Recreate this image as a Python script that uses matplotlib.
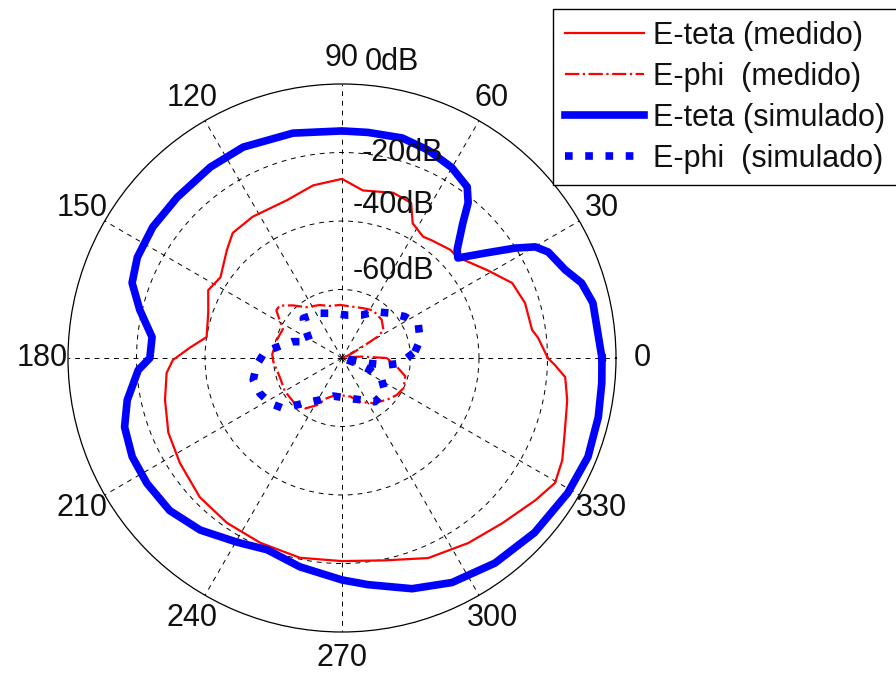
import numpy as np
import matplotlib.pyplot as plt

plt.rcParams['font.family'] = ['Liberation Sans', 'DejaVu Sans']

# --- data: angle (deg) and level (dB)
teta_med_ang = [0, 6, 8.4, 16.7, 23.8, 31.1, 41.3, 45, 52.7, 56.2, 62.3, 66, 72.8,
                82.9, 90, 99.5, 109.2, 122.3, 131.1, 136.8, 146.4, 153.1, 161.4,
                171.2, 176, 180.7, 184.9, 193.3, 203.3, 213, 224.4, 235.1, 246.1,
                258.1, 270, 282, 293.3, 304.3, 314.1, 323.7, 329.6, 335.1, 341.4,
                349.4, 355.1, 358.1, 360]
teta_med_db = [-19.9, -22.5, -23.9, -24.2, -25.7, -30.4, -35.3, -35.3, -36.8, -37.4,
               -35.6, -30.4, -29.5, -30.7, -27.7, -28.9, -31.2, -31.2, -31.5, -33.9,
               -37.4, -36.2, -38.8, -40.0, -35.6, -30.6, -28.6, -26.9, -24.8, -23.6,
               -21.9, -21.3, -21.0, -20.4, -20.7, -19.6, -16.4, -14.6, -12.8, -9.9,
               -7.9, -9.1, -11.4, -13.1, -14.6, -17.8, -19.9]

phi_med_ang = [0, 4, 8, 14, 20, 25, 28, 30, 31, 34, 44, 57, 67, 78, 92, 103, 113, 125,
               133, 140, 144, 149, 154, 165, 177, 183, 197, 210, 222, 234, 242, 249,
               262, 282, 292, 305, 317, 326, 334, 344, 351, 360]
phi_med_db = [-66.9, -74.2, -78.2, -79.7, -78.5, -76.8, -74.2, -70.7, -67.7, -65.4,
              -63.9, -63.4, -64.2, -64.7, -64.5, -64.4, -63.2, -61.9, -59.0, -56.2,
              -56.3, -58.8, -60.8, -60.2, -59.6, -59.9, -61.0, -60.7, -60.9, -61.8,
              -64.4, -67.4, -69.2, -68.5, -66.2, -63.9, -62.1, -60.7, -60.0, -60.8,
              -63.8, -66.9]

teta_sim_ang = [0, 12.4, 17.4, 21.5, 27.2, 29.9, 32.4, 36.3, 40.8, 43.2, 48.1, 50.9,
                53.8, 60.1, 67.5, 74.7, 83.4, 90, 102.3, 115.1, 124.6, 135.7, 145.3,
                153.8, 160.3, 166.6, 173.7, 180, 183.4, 191.1, 197.6, 205.2, 212.7,
                221.5, 230.5, 240.3, 248.7, 258.6, 270, 276.5, 286.9, 296.1, 306.7,
                317.8, 329.1, 338.1, 347, 354.5, 360]
teta_sim_db = [-4.1, -5.0, -6.7, -9.9, -12.3, -14.9, -20.1, -28.3, -35.3, -33.9,
               -27.2, -21.6, -18.1, -15.8, -14.3, -13.4, -13.7, -13.7, -12.8, -12.0,
               -12.3, -12.8, -12.8, -13.4, -14.9, -19.3, -24.2, -23.9, -20.4, -16.1,
               -13.4, -12.3, -12.3, -12.8, -14.9, -18.1, -19.9, -17.8, -15.2, -13.4,
               -9.6, -7.0, -5.3, -4.1, -3.2, -2.6, -3.2, -3.8, -4.1]

phi_sim_ang = [4.9, 13, 23.4, 33.3, 43, 54.5, 65.4, 83.8, 101, 117.9, 134.3, 141.2,
               153, 162, 175.3, 184.7, 193.9, 203.3, 212.2, 220.6, 229.5, 242.4, 257,
               278.9, 296.9, 307, 321.9, 331, 336.8, 340, 345, 349, 351, 354.8, 364.9]
phi_sim_db = [-58.6, -56.6, -55.7, -58.0, -60.8, -63.4, -66.2, -67.4, -66.7, -65.2,
              -63.8, -66.2, -69.5, -64.6, -57.4, -55.0, -53.3, -53.9, -55.2, -57.4,
              -62.6, -66.2, -68.6, -68.1, -66.2, -64.0, -64.1, -66.7, -71.1, -75.4,
              -80.0, -71.7, -66.8, -63.0, -58.6]

angle_labels = ['0', '30', '60', '90', '120', '150', '180', '210', '240', '270', '300', '330']
ring_labels = ['0dB', '-20dB', '-40dB', '-60dB']
ring_label_pos = [(392, 62), (402, 153), (393, 205), (393, 271)]   # pixel centres

W, H = 896, 677
fs = 22
fig = plt.figure(figsize=(W / 100, H / 100), dpi=100)
ax = fig.add_axes([68 / W, 45 / H, 548 / W, 548 / H], projection='polar')

ax.set_ylim(-80, 0)
ax.set_yticks([-60, -40, -20])
ax.set_yticklabels([])
ax.set_xticks(np.deg2rad(np.arange(0, 360, 30)))
ax.set_xticklabels([])
ax.tick_params(length=0)
ax.grid(True, color='k', linestyle=(0, (5, 5)), linewidth=0.7)
ax.spines['polar'].set_linewidth(0.9)

ax.plot(np.deg2rad(teta_med_ang), teta_med_db, color='red', lw=1.6, label='E-teta (medido)')
ax.plot(np.deg2rad(phi_med_ang), phi_med_db, color='red', lw=1.6, ls='-.', label='E-phi  (medido)')
ax.plot(np.deg2rad(teta_sim_ang), teta_sim_db, color='blue', lw=5.5, label='E-teta (simulado)')
ax.plot(np.deg2rad(phi_sim_ang), phi_sim_db, color='blue', lw=5.5, ls=':', label='E-phi  (simulado)')

# angle labels just outside the outer circle
for k, lab in enumerate(angle_labels):
    ax.text(np.deg2rad(30 * k), 7.6, lab, ha='center', va='center', fontsize=fs,
            color='#111111', clip_on=False)

for lab, (px, py) in zip(ring_labels, ring_label_pos):
    fig.text(px / W, 1 - py / H, lab, ha='center', va='center', fontsize=fs, color='#111111')

leg = fig.legend(loc='upper left', bbox_to_anchor=(553 / W, 1 - 9 / H), fontsize=fs,
                 frameon=True, fancybox=False, framealpha=1, edgecolor='k',
                 handlelength=2.6, handletextpad=0.3, labelspacing=0.36,
                 borderpad=0.38, borderaxespad=0)
leg.get_frame().set_linewidth(1.0)
for t in leg.get_texts():
    t.set_color('#111111')

fig.savefig('out.png', dpi=100)
